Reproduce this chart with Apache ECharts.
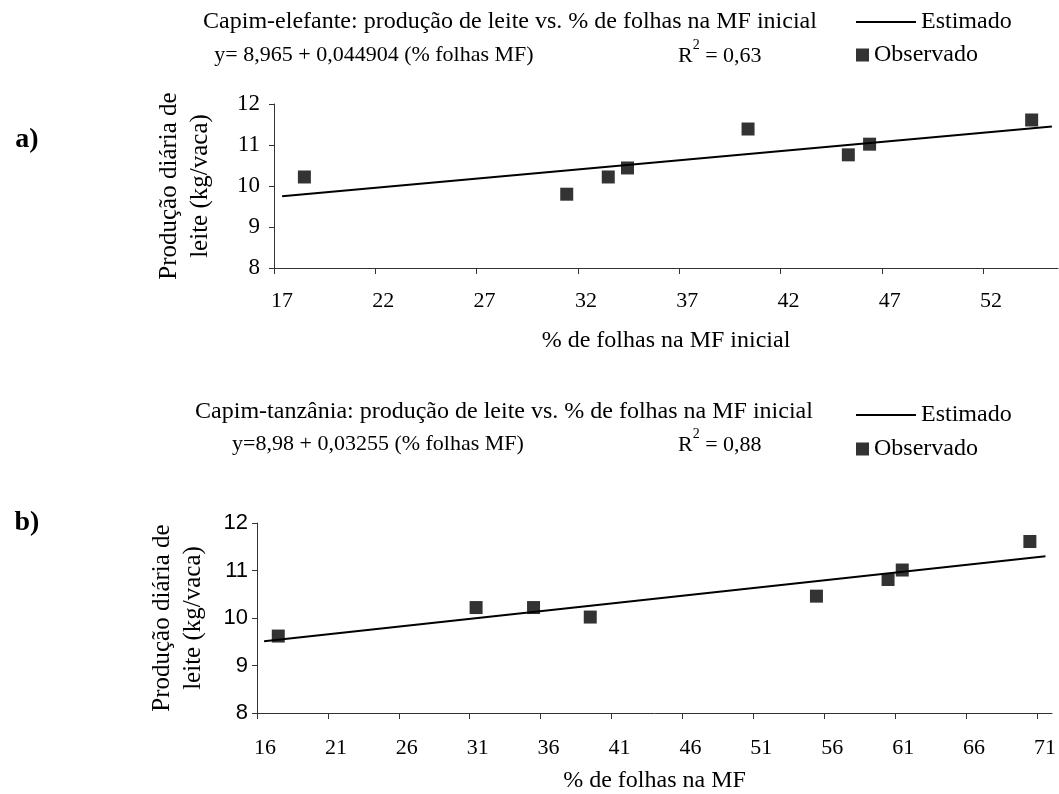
<!DOCTYPE html>
<html>
<head>
<meta charset="utf-8">
<script src="https://cdn.jsdelivr.net/npm/echarts@6/dist/echarts.min.js"></script>
<style>
  html, body { margin: 0; padding: 0; background: #fff; }
  #chart { width: 1059px; height: 794px; }
</style>
</head>
<body>
<div id="chart"></div>
<script>
  // a) capim-elefante
  var obsA = [[18.5, 10.22], [31.45, 9.8], [33.5, 10.22], [34.45, 10.44], [40.4, 11.39], [45.35, 10.76], [46.4, 11.02], [54.4, 11.61]]
  var estA = [[17.4, 9.75], [55.4, 11.45]]
  var ticksA = [17, 22, 27, 32, 37, 42, 47, 52]
  // b) capim-tanzânia
  var obsB = [[17.5, 9.62], [31.45, 10.22], [35.5, 10.22], [39.5, 10.02], [55.45, 10.46], [60.5, 10.81], [61.5, 11.01], [70.5, 11.61]]
  var estB = [[16.5, 9.51], [71.6, 11.3]]
  var ticksB = [16, 21, 26, 31, 36, 41, 46, 51, 56, 61, 66, 71]

  var serif = '"Liberation Serif", "DejaVu Serif", serif'
  var sans = '"Liberation Sans", Arial, sans-serif'

  var chart = echarts.init(document.getElementById('chart'))

  function xAxisOf(idx, min, max, ticks, name, gap, margin) {
    return {
      type: 'value', gridIndex: idx, min: min, max: max, interval: 5,
      name: name, nameLocation: 'middle', nameGap: gap,
      nameTextStyle: { fontFamily: serif, fontSize: 24, color: '#000' },
      axisLine: { show: true, onZero: false, lineStyle: { color: '#333', width: 1 } },
      axisTick: { show: true, length: 6, customValues: ticks, lineStyle: { color: '#333' } },
      axisLabel: { customValues: ticks, margin: margin, padding: [0, 0, 0, 16], fontFamily: serif, fontSize: 22, color: '#000' },
      splitLine: { show: false }
    }
  }
  function yAxisOf(idx, font, margin, gap) {
    return {
      type: 'value', gridIndex: idx, min: 8, max: 12, interval: 1,
      name: 'Produção diária de\nleite (kg/vaca)', nameLocation: 'middle', nameRotate: 90, nameGap: gap,
      nameTextStyle: { fontFamily: serif, fontSize: 25, color: '#000', lineHeight: 31 },
      axisLine: { show: true, onZero: false, lineStyle: { color: '#333', width: 1 } },
      axisTick: { show: true, length: 5, lineStyle: { color: '#333' } },
      axisLabel: { margin: margin, fontFamily: font, fontSize: font === serif ? 23 : 22, color: '#000' },
      splitLine: { show: false }
    }
  }

  function legendOf(name, left, top, w, h) {
    return {
      data: [name], left: left, top: top, itemWidth: w, itemHeight: h, selectedMode: false,
      padding: 0, textStyle: { fontFamily: serif, fontSize: 24, color: '#000' }
    }
  }

  function txt(x, y, s, size, weight) {
    return { type: 'text', x: x, y: y, style: { text: s, fontFamily: serif, fontSize: size || 21, fontWeight: weight || 'normal', fill: '#000', align: 'center', verticalAlign: 'middle' } }
  }
  function rsq(x, y, v) {
    return {
      type: 'text', x: x, y: y,
      style: {
        text: '{a|R}{s|2}{a| = ' + v + '}', align: 'left', verticalAlign: 'middle',
        rich: {
          a: { fontFamily: serif, fontSize: 22, color: '#000', padding: [7, 0, 0, 0] },
          s: { fontFamily: serif, fontSize: 14, color: '#000', verticalAlign: 'top' }
        }
      }
    }
  }

  var option = {
    animation: false,
    grid: [
      { left: 274, top: 104, width: 784, height: 164 },
      { left: 257, top: 523, width: 795, height: 193 }
    ],
    xAxis: [
      xAxisOf(0, 17, 55.7, ticksA, '% de folhas na MF inicial', 61, 22),
      xAxisOf(1, 16, 72.06, ticksB, '% de folhas na MF', 56, 24)
    ],
    yAxis: [
      yAxisOf(0, serif, 14, 58),
      yAxisOf(1, sans, 9, 48)
    ],
    legend: [
      legendOf('Estimado', 855, 10, 60, 2),
      legendOf('Observado', 856, 43, 13, 13),
      legendOf('Estimado', 855, 403, 60, 2),
      legendOf('Observado', 856, 437, 13, 13)
    ],
    graphic: [
      txt(510, 22, 'Capim-elefante: produção de leite vs. % de folhas na MF inicial', 24),
      txt(374, 55, 'y= 8,965 + 0,044904 (% folhas MF)', 22),
      rsq(678, 53, '0,63'),
      txt(27, 140, 'a)', 28, 'bold'),
      txt(504, 412, 'Capim-tanzânia: produção de leite vs. % de folhas na MF inicial', 24),
      txt(378, 444, 'y=8,98 + 0,03255 (% folhas MF)', 22),
      rsq(678, 442, '0,88'),
      txt(27, 523, 'b)', 28, 'bold')
    ],
    series: [
      { name: 'Estimado', type: 'line', xAxisIndex: 0, yAxisIndex: 0, data: estA, symbol: 'none', lineStyle: { color: '#000', width: 2 }, itemStyle: { color: '#000' } },
      { name: 'Observado', type: 'scatter', xAxisIndex: 0, yAxisIndex: 0, data: obsA, symbol: 'rect', symbolSize: 13, itemStyle: { color: '#000' } },
      { name: 'Estimado', type: 'line', xAxisIndex: 1, yAxisIndex: 1, data: estB, symbol: 'none', lineStyle: { color: '#000', width: 2 }, itemStyle: { color: '#000' } },
      { name: 'Observado', type: 'scatter', xAxisIndex: 1, yAxisIndex: 1, data: obsB, symbol: 'rect', symbolSize: 13, itemStyle: { color: '#000' } }
    ]
  }
  chart.setOption(option)
</script>
</body>
</html>
